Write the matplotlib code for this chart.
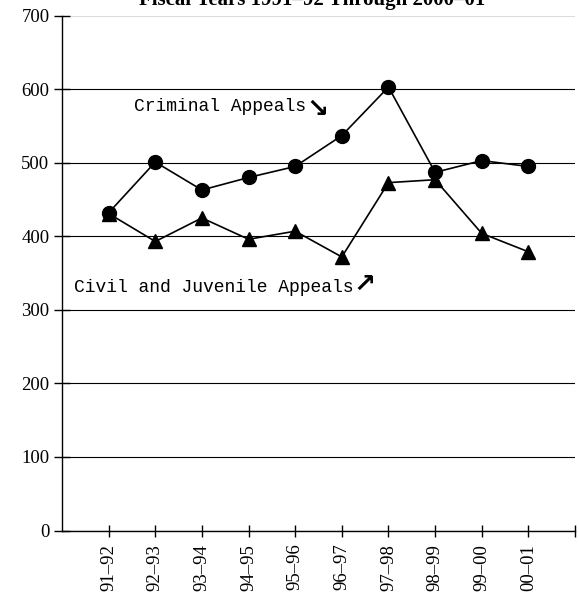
import numpy as np
import matplotlib
matplotlib.use("Agg")
import matplotlib.pyplot as plt

years = ["91\u201392", "92\u201393", "93\u201394", "94\u201395", "95\u201396",
         "96\u201397", "97\u201398", "98\u201399", "99\u201300", "00\u201301"]
criminal = [432, 501, 463, 480, 495, 537, 603, 487, 503, 495]
civil = [431, 393, 425, 396, 407, 372, 473, 477, 404, 379]
yticks = [0, 100, 200, 300, 400, 500, 600, 700]

SERIF = "Liberation Serif"
MONO = "Liberation Mono"

fig = plt.figure(figsize=(5.79, 5.99), dpi=100)
ax = fig.add_axes([62 / 579, 1 - 530.5 / 599, 513 / 579, 514.8 / 599])

x = np.arange(len(years))
ax.plot(x, criminal, color="black", lw=1.2, marker="o", ms=10, zorder=3)
ax.plot(x, civil, color="black", lw=1.2, marker="^", ms=10.5, zorder=3)

ax.set_xlim(-1, len(years))
ax.set_ylim(0, 700)
ax.set_yticks(yticks)
ax.set_xticks(np.arange(len(years) + 1))
ax.set_xticklabels(years + [""], rotation=90, family=SERIF, fontsize=13.5)
ax.set_yticklabels([str(v) for v in yticks], family=SERIF, fontsize=13.5)

ax.grid(axis="y", color="black", lw=0.8)
ax.get_ygridlines()[-1].set_color("#dddddd")
ax.set_axisbelow(True)
for side in ("top", "right"):
    ax.spines[side].set_visible(False)
ax.spines["left"].set_linewidth(1.0)
ax.spines["bottom"].set_linewidth(1.0)
ax.tick_params(axis="x", direction="inout", length=9, width=1.0, pad=5)
ax.tick_params(axis="y", direction="inout", length=12, width=1.0, pad=3)

# series labels with their little arrows
t1 = ax.text(0.55, 577, "Criminal Appeals", family=MONO, fontsize=13,
             va="center", ha="left")
ax.annotate("\u2198", xy=(1.0, 0.25), xycoords=t1, family="DejaVu Sans",
            fontweight="bold", fontsize=19, ha="left", va="center")
t2 = ax.text(-0.75, 331, "Civil and Juvenile Appeals", family=MONO,
             fontsize=13, va="center", ha="left")
ax.annotate("\u2197", xy=(1.0, 0.65), xycoords=t2, family="DejaVu Sans",
            fontweight="bold", fontsize=19, ha="left", va="center")

fig.text(312 / 579, 1 - 5 / 599, "Fiscal Years 1991\u201392 Through 2000\u201301",
         family=SERIF, fontweight="bold", fontsize=15, ha="center", va="baseline")

fig.savefig("out.png", dpi=100)
